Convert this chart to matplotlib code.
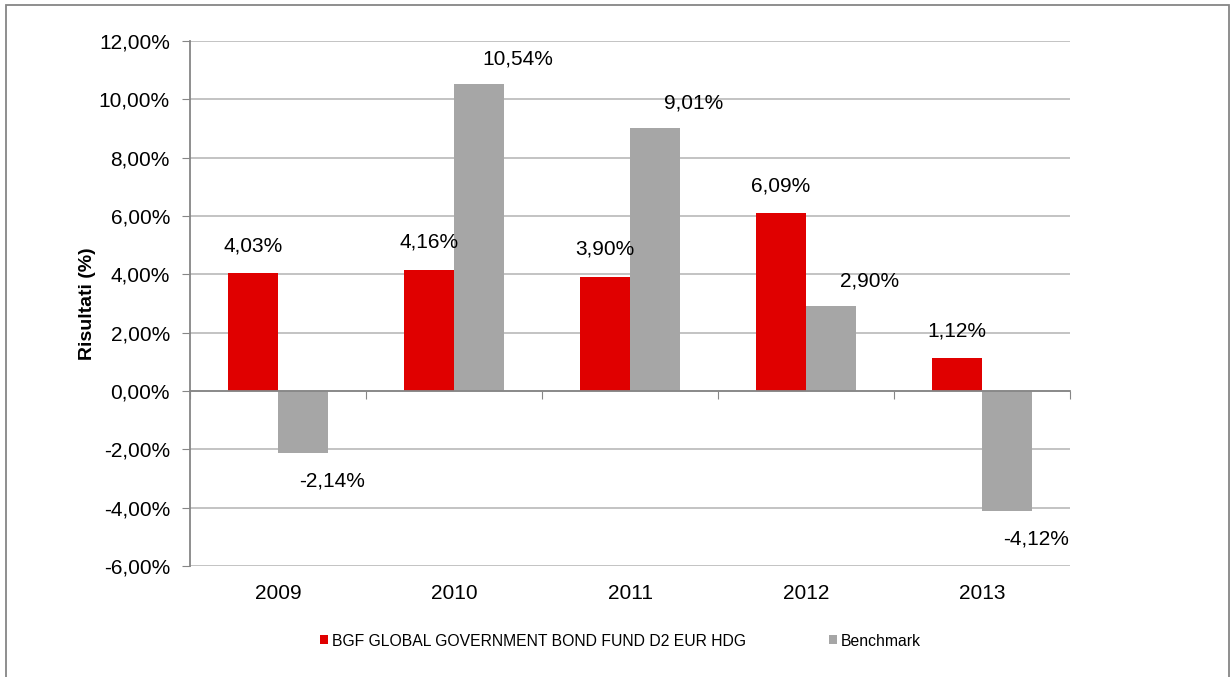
import numpy as np
import matplotlib.pyplot as plt
from matplotlib.patches import Rectangle
from matplotlib.ticker import FuncFormatter

plt.rcParams['font.family'] = ['Liberation Sans', 'DejaVu Sans']

years = ['2009', '2010', '2011', '2012', '2013']
fund = [4.03, 4.16, 3.90, 6.09, 1.12]
bench = [-2.14, 10.54, 9.01, 2.90, -4.12]
fund_name = 'BGF GLOBAL GOVERNMENT BOND FUND D2 EUR HDG'
bench_name = 'Benchmark'

red = '#E00000'
grey = '#A6A6A6'
fs = 15

def pct(v):
    return ('%.2f%%' % v).replace('.', ',')

fig = plt.figure(figsize=(12.3, 6.77), dpi=100)
ax = fig.add_axes([0.1545, 0.164, 0.7154, 0.7754])

x = np.arange(len(years))
w = 0.284
b1 = ax.bar(x - w / 2, fund, w, color=red, label=fund_name, zorder=3)
b2 = ax.bar(x + w / 2, bench, w, color=grey, label=bench_name, zorder=3)

# data labels
for xi, v in zip(x - w / 2, fund):
    ax.annotate(pct(v), (xi, v), xytext=(0, 20 if v >= 0 else -20),
                textcoords='offset points', ha='center', va='center', fontsize=fs)
for xi, v in zip(x + w / 2, bench):
    off = (28, 18) if v >= 0 else (21, -20)
    ax.annotate(pct(v), (xi, v), xytext=off,
                textcoords='offset points', ha='center', va='center', fontsize=fs)

ax.set_xlim(-0.5, len(years) - 0.5)
ax.set_ylim(-6, 12)
ax.set_yticks(np.arange(-6, 13, 2))
ax.yaxis.set_major_formatter(FuncFormatter(lambda v, p: pct(v)))
ax.tick_params(axis='y', labelsize=fs, length=6, color='#868686', pad=8.5)

# category boundary ticks on the zero line, year labels at the bottom
ax.set_xticks(np.arange(-0.5, len(years), 1))
ax.set_xticklabels([])
ax.tick_params(axis='x', length=6, color='#868686', direction='out')
for xi, yr in zip(x, years):
    ax.annotate(yr, (xi, -6), xytext=(0, -19.5), textcoords='offset points',
                ha='center', va='center', fontsize=fs)

ax.grid(axis='y', color='#BEBEBE', linewidth=1.3, zorder=0)
for s in ['top', 'right']:
    ax.spines[s].set_visible(False)
ax.spines['bottom'].set_position(('data', 0))
ax.spines['bottom'].set_color('#868686')
ax.spines['bottom'].set_zorder(4)
ax.spines['left'].set_color('#868686')
ax.spines['left'].set_linewidth(1.3)
ax.spines['bottom'].set_linewidth(1.3)

ax.set_ylabel('Risultati (%)', fontsize=14, fontweight='bold', labelpad=2)

leg = fig.legend(handles=[b1, b2], loc='center left',
                 bbox_to_anchor=(320 / 1230, 1 - 641 / 677),
                 ncol=2, frameon=False, fontsize=11.3, handlelength=0.5,
                 handleheight=0.5, handletextpad=0.25, columnspacing=5.3,
                 borderpad=0, borderaxespad=0)

# outer frame
fig.patches.append(Rectangle((6 / 1230, -0.05), 1223 / 1230, 1.05 - 5 / 677,
                             transform=fig.transFigure, fill=False,
                             edgecolor='#868686', linewidth=1.3))

fig.savefig('out.png', dpi=100)
